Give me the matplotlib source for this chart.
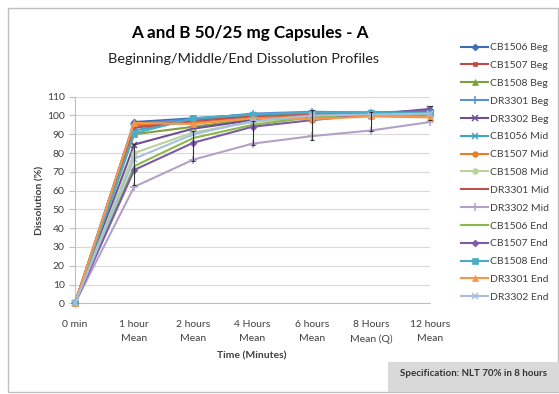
import matplotlib
matplotlib.use("Agg")
import matplotlib.pyplot as plt
from matplotlib.patches import Rectangle
import numpy as np

plt.rcParams['font.family'] = ['Lato', 'DejaVu Sans']

categories = ["0 min", "1 hour\nMean", "2 hours\nMean", "4 Hours\nMean",
              "6 hours\nMean", "8 Hours\nMean (Q)", "12 hours\nMean"]
y_ticks = [0, 10, 20, 30, 40, 50, 60, 70, 80, 90, 100, 110]

cb1506_beg = [0, 96.5, 98.5, 100.5, 101.5, 101.5, 102.5]
cb1507_beg = [0, 94.0, 97.5, 100.0, 101.0, 101.0, 102.0]
cb1508_beg = [0, 90.0, 94.0, 98.0, 100.0, 100.0, 101.0]
dr3301_beg = [0, 95.5, 98.0, 101.0, 102.0, 101.5, 102.0]
dr3302_beg = [0, 84.5, 93.0, 97.5, 100.0, 100.5, 103.5]
cb1056_mid = [0, 92.0, 98.0, 100.0, 101.5, 101.5, 102.0]
cb1507_mid = [0, 95.0, 96.0, 98.5, 100.0, 100.0, 100.0]
cb1508_mid = [0, 80.0, 91.0, 96.5, 99.0, 100.0, 101.0]
dr3301_mid = [0, 93.5, 97.0, 99.5, 101.0, 101.0, 102.0]
dr3302_mid = [0, 62.0, 76.5, 85.0, 89.0, 92.0, 96.5]
cb1506_end = [0, 73.0, 88.0, 95.0, 99.0, 100.0, 101.0]
cb1507_end = [0, 71.0, 85.5, 94.0, 97.5, 100.5, 103.0]
cb1508_end = [0, 90.5, 98.5, 100.5, 101.5, 101.5, 101.5]
dr3301_end = [0, 96.0, 95.5, 98.5, 98.0, 99.5, 99.0]
dr3302_end = [0, 77.0, 90.0, 97.0, 100.0, 100.5, 101.0]

# error bar extents (low / high) drawn on CB1507 End
err_low = [0, 63.0, 76.0, 84.5, 87.0, 91.5, 97.5]
err_high = [0, 85.0, 92.0, 97.0, 103.0, 102.0, 104.8]

series = [
    ("CB1506 Beg", cb1506_beg, "#3F6DB3", "D", 3.5),
    ("CB1507 Beg", cb1507_beg, "#BE4B48", "s", 3.5),
    ("CB1508 Beg", cb1508_beg, "#7FA03E", "^", 4),
    ("DR3301 Beg", dr3301_beg, "#5B8FD6", "+", 5.5),
    ("DR3302 Beg", dr3302_beg, "#6E4F96", "x", 4.5),
    ("CB1056 Mid", cb1056_mid, "#3FA4BF", "x", 4.5),
    ("CB1507 Mid", cb1507_mid, "#E87D2A", "o", 4),
    ("CB1508 Mid", cb1508_mid, "#B9D39A", "o", 4),
    ("DR3301 Mid", dr3301_mid, "#C0504D", "", 0),
    ("DR3302 Mid", dr3302_mid, "#B3A2C7", "+", 5.5),
    ("CB1506 End", cb1506_end, "#8DB84A", "", 0),
    ("CB1507 End", cb1507_end, "#7C5BA6", "D", 3.5),
    ("CB1508 End", cb1508_end, "#4BACC6", "s", 4.5),
    ("DR3301 End", dr3301_end, "#F79646", "^", 5),
    ("DR3302 End", dr3302_end, "#A7BFDE", "x", 4.5),
]

W, H = 559, 394
fig = plt.figure(figsize=(W / 100, H / 100), dpi=100)

def fx(px):
    return px / W

def fy(py):
    return 1 - py / H

# outer border
fig.patches.append(Rectangle((fx(8), fy(392)), fx(550), (384) / H, transform=fig.transFigure,
                             fill=False, edgecolor="#BFBFBF", lw=1.0, zorder=0))

ax = fig.add_axes([fx(75), fy(303.3), fx(430 - 75), (303.3 - 96.7) / H])
x = np.arange(len(categories))

for name, vals, col, mk, ms in series:
    ax.plot(x, vals, color=col, lw=1.5, marker=mk if mk else None, markersize=ms,
            markeredgewidth=1.1 if mk in ("x", "+") else 0.5, label=name, zorder=3)

cb_end = np.array(cb1507_end)
lo = cb_end - np.array(err_low)
hi = np.array(err_high) - cb_end
ax.errorbar(x[1:], cb_end[1:], yerr=[lo[1:], hi[1:]], fmt="none", ecolor="#333333",
            elinewidth=0.8, capsize=1.5, capthick=0.8, zorder=4)

ax.set_xlim(0, 6)
ax.set_ylim(0, 110)
ax.set_yticks(y_ticks)
ax.set_xticks(x)
ax.set_xticklabels(categories, fontsize=7.5, color="#404040", linespacing=1.75)
ax.tick_params(axis="y", labelsize=7.5, labelcolor="#404040", color="#BFBFBF", length=4, width=0.8)
ax.tick_params(axis="x", length=0, pad=12)
for lab in ax.get_xticklabels():
    lab.set_verticalalignment("top")
ax.grid(axis="y", color="#D9D9D9", lw=0.8, zorder=0)
ax.set_axisbelow(True)
for s in ("top", "right"):
    ax.spines[s].set_visible(False)
ax.spines["left"].set_color("#BFBFBF")
ax.spines["bottom"].set_color("#BFBFBF")
for ln in ax.lines:
    ln.set_clip_on(False)

fig.text(fx(252), fy(356), "Time (Minutes)", ha="center", va="center",
         fontsize=7.5, fontweight="bold", color="#404040")
fig.text(fx(40), fy(200), "Dissolution (%)", ha="center", va="center", rotation=90,
         fontsize=7.5, fontweight="bold", color="#404040")

fig.text(fx(250), fy(33), "A and B 50/25 mg Capsules - A", ha="center", va="center",
         fontsize=12.3, fontweight="bold", color="black")
fig.text(fx(243), fy(59), "Beginning/Middle/End Dissolution Profiles", ha="center", va="center",
         fontsize=10.4, color="#202020")

handles, labels = ax.get_legend_handles_labels()
fig.legend(handles, labels, loc="upper left", bbox_to_anchor=(fx(461), fy(43)),
           frameon=False, fontsize=7.5, labelspacing=0.82, handlelength=2.6,
           handletextpad=0.2, borderpad=0, borderaxespad=0, labelcolor="#404040")

fig.patches.append(Rectangle((fx(388), fy(392)), fx(171), 30 / H, transform=fig.transFigure,
                             facecolor="#D9D9D9", edgecolor="none", zorder=1))
fig.text(fx(473), fy(373), "Specification: NLT 70% in 8 hours", ha="center", va="center",
         fontsize=7, fontweight="bold", color="#333333", zorder=2)

fig.savefig("out.png", dpi=100)
